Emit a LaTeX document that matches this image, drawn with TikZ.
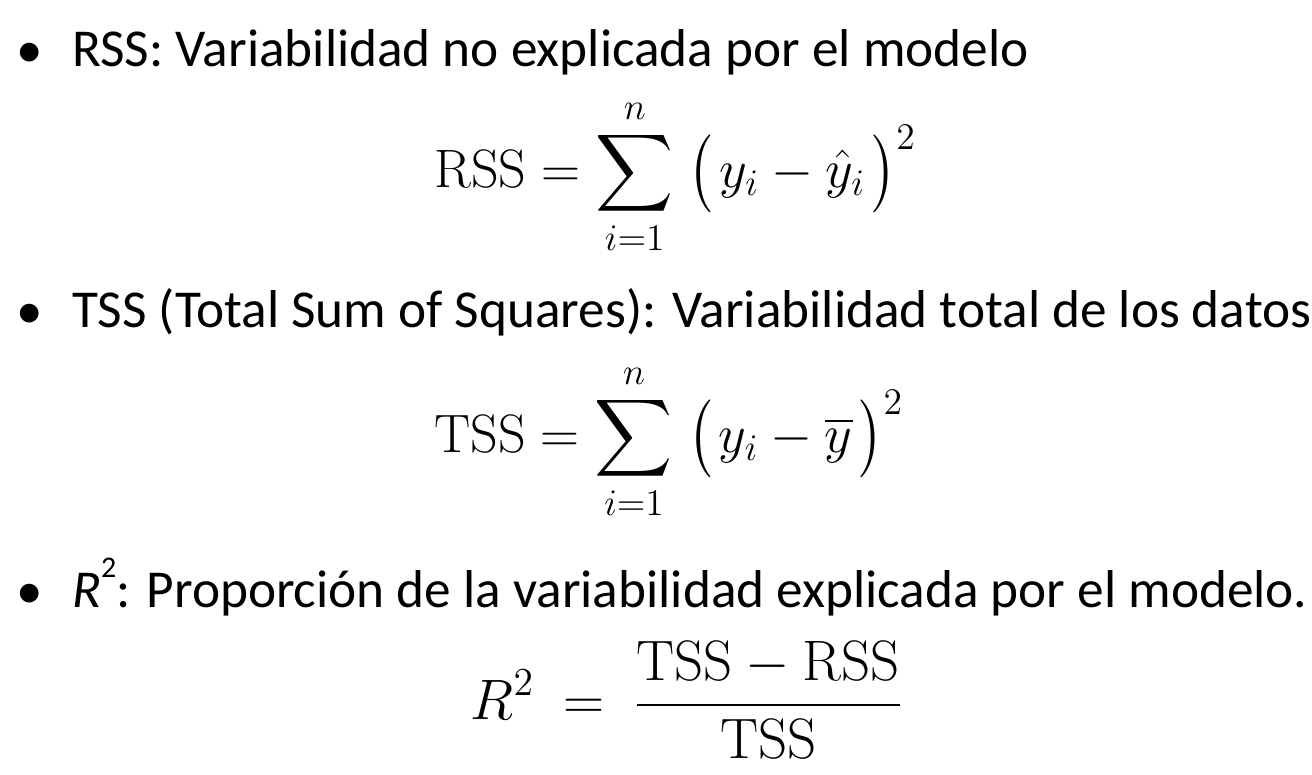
\documentclass[tikz,border=0pt]{standalone}
\usepackage{amsmath}
\usepackage{graphicx}
\usepackage[no-math]{fontspec}
\setmainfont{Carlito}
\newcommand\mylp{\mathopen{\vcenter{\hbox{\scalebox{1}[1.2]{$\bigl($}}}}}
\newcommand\myrp{\mathclose{\vcenter{\hbox{\scalebox{1}[1.2]{$\bigr)$}}}}}
\begin{document}
\begin{tikzpicture}[x=1pt,y=-1pt,
  txt/.style={anchor=base west,inner sep=0pt,font=\fontsize{53.3}{60}\selectfont},
  bul/.style={anchor=base,inner sep=0pt,font=\fontsize{53}{60}\selectfont},
  frm/.style={anchor=base west,inner sep=0pt,scale=3.13,font=\fontsize{17.28}{20}\selectfont},
  frmb/.style={anchor=base west,inner sep=0pt,scale=3.3,font=\fontsize{17.28}{20}\selectfont}]
\useasboundingbox[fill=white] (0,0) rectangle (1312,774);
\node[bul] (b1) at (30,67) {•};
\node[txt] (t1) at (72,66) {RSS: Variabilidad no explicada por el modelo};
\node[frm] (f1) at (434,187) {$\displaystyle \mathrm{RSS} = \sum_{i=1}^{n}\mkern5mu\mylp\mkern2mu y_i - \hat{y}_i\mkern2mu\myrp^2$};
\node[bul] (b2) at (30,328) {•};
\node[txt] (t2) at (72,327) {TSS (Total Sum of Squares): Variabilidad total de los datos};
\node[frm] (f2) at (434,452) {$\displaystyle \mathrm{TSS} = \sum_{i=1}^{n}\mkern5mu\mylp\mkern2mu y_i - \overline{y}\mkern2mu\myrp^2$};
\node[bul] (b3) at (30,608) {•};
\node[txt] (t3) at (72,607) {\textit{R}\raisebox{0.55em}{\fontsize{30}{30}\selectfont 2}: Proporción de la variabilidad explicada por el modelo.};
\node[frmb] (f3) at (470,719) {$\displaystyle R^2 \mkern4mu=\mkern4mu \frac{\mathrm{TSS} - \mathrm{RSS}}{\mathrm{TSS}}$};
\end{tikzpicture}
\end{document}
